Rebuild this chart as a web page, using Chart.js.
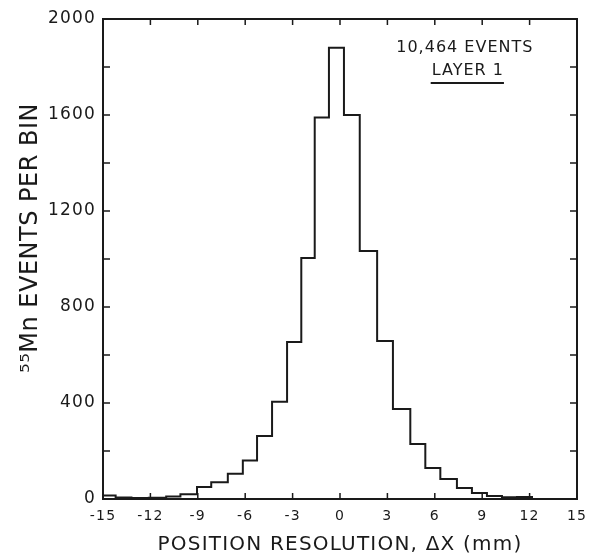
<!DOCTYPE html>
<html>
<head>
<meta charset="utf-8">
<script src="https://cdn.jsdelivr.net/npm/chart.js@4.4.0/dist/chart.umd.min.js"></script>
<style>
  html, body { margin: 0; padding: 0; background: #fff; }
  #wrap { width: 590px; height: 560px; }
</style>
</head>
<body>
<div id="wrap"><canvas id="histo" width="590" height="560"></canvas></div>
<script>
const binEdges = [-15, -14.2, -13.2, -12.1, -11.0, -10.1, -9.05, -8.15, -7.1, -6.15,
    -5.25, -4.3, -3.35, -2.45, -1.6, -0.7, 0.25, 1.25, 2.35, 3.35,
    4.45, 5.4, 6.35, 7.4, 8.35, 9.3, 10.25, 11.2, 12.15, 15];
const binCounts = [15, 6, 4, 5, 10, 20, 50, 70, 105, 160,
    262, 405, 654, 1004, 1590, 1880, 1600, 1033, 658, 375,
    229, 129, 83, 46, 25, 12, 7, 8, 0];
const xTicks = [-15, -12, -9, -6, -3, 0, 3, 6, 9, 12, 15];
const yLabelTicks = [0, 400, 800, 1200, 1600, 2000];
const noteLines = ['10,464 EVENTS', 'LAYER 1'];
const yTitle = '⁵⁵Mn EVENTS PER BIN';

const FONT = "'DejaVu Sans', sans-serif";
const INK = '#1a1a1a';

const points = binEdges.map((e, i) => ({ x: e, y: binCounts[Math.min(i, binCounts.length - 1)] }));

// the old lettering is wide, so space the axis text out a bit
const spacingPlugin = {
    id: 'spacing',
    beforeDraw(chart) { chart.ctx.letterSpacing = '1.2px'; },
    beforeDatasetsDraw(chart) { chart.ctx.letterSpacing = '0px'; }
};

// frame round the plot, with inward ticks on all four sides
const framePlugin = {
    id: 'frame',
    afterDatasetsDraw(chart) {
        const { ctx, chartArea: a, scales: { x, y } } = chart;
        ctx.save();
        ctx.strokeStyle = INK;
        ctx.lineWidth = 2;
        ctx.strokeRect(a.left, a.top, a.right - a.left, a.bottom - a.top);
        ctx.lineWidth = 1.5;
        ctx.beginPath();
        x.ticks.forEach(t => {
            const px = x.getPixelForValue(t.value);
            ctx.moveTo(px, a.bottom); ctx.lineTo(px, a.bottom - 6);
            ctx.moveTo(px, a.top); ctx.lineTo(px, a.top + 6);
        });
        y.ticks.forEach(t => {
            const py = y.getPixelForValue(t.value);
            ctx.moveTo(a.left, py); ctx.lineTo(a.left + 7, py);
            ctx.moveTo(a.right, py); ctx.lineTo(a.right - 7, py);
        });
        ctx.stroke();

        // note in the top right corner
        ctx.fillStyle = INK;
        ctx.letterSpacing = '1px';
        ctx.font = '16px ' + FONT;
        ctx.textAlign = 'center';
        ctx.textBaseline = 'middle';
        const cx = x.getPixelForValue(7.9);
        ctx.fillText(noteLines[0], cx, y.getPixelForValue(1880));
        ctx.fillText(noteLines[1], cx + 3, y.getPixelForValue(1785));
        const w = ctx.measureText(noteLines[1]).width;
        const uy = y.getPixelForValue(1733);
        ctx.lineWidth = 2;
        ctx.beginPath();
        ctx.moveTo(cx + 3 - w / 2 - 1, uy); ctx.lineTo(cx + 3 + w / 2, uy);
        ctx.stroke();

        // y axis title, sits a little above the middle of the axis
        ctx.letterSpacing = '0.5px';
        ctx.font = '24px ' + FONT;
        ctx.translate(31, 238);
        ctx.rotate(-Math.PI / 2);
        ctx.fillText(yTitle, 0, 0);
        ctx.restore();
    }
};

new Chart(document.getElementById('histo'), {
    type: 'line',
    data: {
        datasets: [{
            data: points,
            stepped: true,
            borderColor: INK,
            borderWidth: 2,
            pointRadius: 0,
            fill: false
        }]
    },
    options: {
        responsive: false,
        animation: false,
        layout: { padding: { top: 19, right: 13, left: 0, bottom: 0 } },
        plugins: { legend: { display: false }, tooltip: { enabled: false } },
        scales: {
            x: {
                type: 'linear',
                min: -15, max: 15,
                afterBuildTicks: s => { s.ticks = xTicks.map(v => ({ value: v })); },
                afterFit: s => { s.height = 61; s.paddingLeft = 0; s.paddingRight = 0; },
                grid: { display: false, drawTicks: false },
                border: { display: false },
                ticks: { color: INK, font: { family: FONT, size: 14 }, padding: 9, maxRotation: 0 },
                title: {
                    display: true,
                    text: 'POSITION RESOLUTION, ΔX (mm)',
                    color: INK,
                    font: { family: FONT, size: 20 },
                    padding: { top: 0, bottom: 3 }
                }
            },
            y: {
                min: 0, max: 2000,
                ticks: {
                    stepSize: 200,
                    color: INK,
                    font: { family: FONT, size: 17 },
                    padding: 7,
                    callback: v => yLabelTicks.includes(v) ? String(v) : ''
                },
                afterFit: s => { s.width = 103; s.paddingTop = 0; s.paddingBottom = 0; },
                grid: { display: false, drawTicks: false },
                border: { display: false },
                title: { display: false }
            }
        }
    },
    plugins: [spacingPlugin, framePlugin]
});
</script>
</body>
</html>
